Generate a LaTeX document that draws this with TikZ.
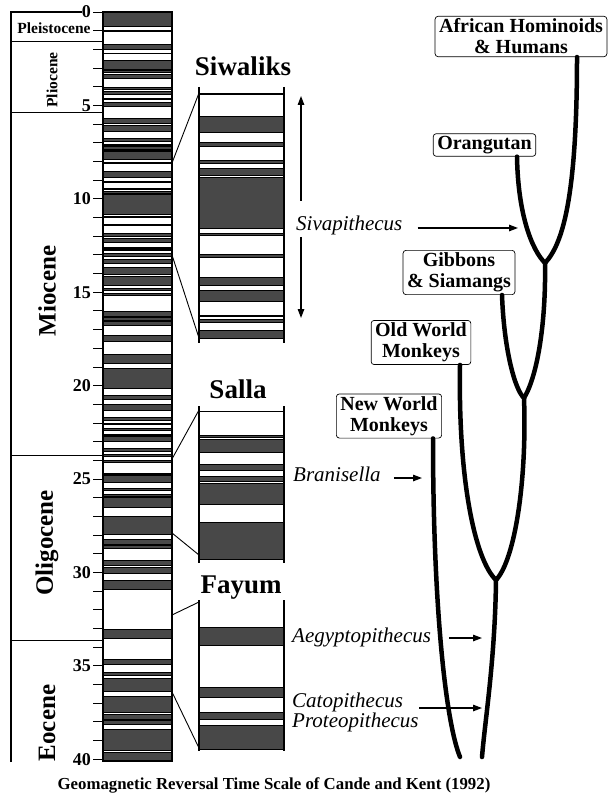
\documentclass[tikz,border=0pt]{standalone}
\usepackage{fontspec}
\setmainfont{Liberation Serif}
\usetikzlibrary{arrows.meta}
\definecolor{shade}{HTML}{484848}
% normal polarity intervals, Ma
\def\chrons{0.000/0.780, 0.984/1.049, 1.757/1.983, 2.197/2.229, 2.600/3.054,
  3.127/3.221, 3.325/3.553, 4.033/4.134, 4.265/4.432, 4.611/4.694, 4.812/5.046,
  5.705/5.946, 6.078/6.376, 6.744/6.901, 7.091/7.135, 7.170/7.341, 7.375/7.406,
  7.464/7.892, 8.047/8.079, 8.529/8.861, 9.069/9.146, 9.428/9.491, 9.592/9.735,
  9.777/10.834, 10.940/10.989, 11.378/11.434, 11.852/12.000, 12.108/12.333,
  12.618/12.649, 12.718/12.764, 12.941/13.094, 13.263/13.476, 13.674/14.059,
  14.164/14.608, 14.800/14.890, 15.038/15.162, 16.035/16.318, 16.352/16.515,
  16.583/16.755, 17.310/17.650, 18.317/18.817, 19.083/20.162, 20.546/20.752,
  21.021/21.343, 21.674/21.865, 22.015/22.077, 22.262/22.394, 22.613/22.689,
  22.710/22.986, 23.353/23.535, 23.677/23.800, 23.999/24.118, 24.722/24.772,
  24.826/25.171, 25.482/25.633, 25.807/25.934, 25.974/26.533, 27.004/27.946,
  28.255/28.484, 28.550/28.716, 29.373/29.633, 29.737/30.071, 30.452/30.915,
  33.058/33.545, 34.655/34.940, 35.343/35.526, 35.685/36.341, 36.618/37.473,
  37.604/37.848, 37.920/38.113, 38.426/39.552, 39.631/40.100}

\begin{document}
\begin{tikzpicture}[x=1pt,y=-1pt,
    band/.style={fill=shade,draw=black,line width=0.7pt},
    frame/.style={line width=1.1pt},
    num/.style={anchor=east,inner sep=0pt,font=\fontsize{18}{18}\selectfont\bfseries},
    epoch/.style={rotate=90,font=\fontsize{25}{25}\selectfont\bfseries},
    site/.style={anchor=base,inner sep=0pt,font=\fontsize{27}{27}\selectfont\bfseries},
    taxon/.style={draw,rounded corners=3pt,line width=0.7pt,fill=white,align=center,
      inner xsep=4pt,inner ysep=2.5pt,font=\fontsize{20}{21}\selectfont\bfseries},
    fossil/.style={anchor=base west,inner sep=0pt,font=\fontsize{21}{20}\selectfont\itshape},
    branch/.style={line width=4.5pt,line cap=round},
    pt/.style={line width=1.3pt,-{Triangle[length=9pt,width=6.5pt]}}]
  \useasboundingbox (0,0) rectangle (607,799);
  \def\yt{12}  % 0 Ma
  \def\sc{18.68} % px per Ma
  % time scale column
  \foreach \t/\b in \chrons
    \filldraw[band] (103,{\yt+\sc*\t}) rectangle (172,{\yt+\sc*\b});
  \draw[frame] (103,\yt) rectangle (172,761);
  \foreach \a in {0,...,40}
    \draw[line width=0.8pt] (93,{\yt+\sc*\a}) -- (102,{\yt+\sc*\a});
  \foreach \a in {0,5,...,40}
    \node[num] (t\a) at (91,{\yt+\sc*\a}) {\a};
  % epochs
  \draw[frame] (11,762) -- (11,\yt) -- (t0.west);
  \foreach \a in {1.6,5.4,23.75,33.65}
    \draw[frame] (11,{\yt+\sc*\a}) -- (103,{\yt+\sc*\a});
  \node[font=\fontsize{15.5}{16}\selectfont\bfseries] (ple) at (54,28) {Pleistocene};
  \node[rotate=90,font=\fontsize{15.5}{16}\selectfont\bfseries] (pli) at (52,80) {Pliocene};
  \node[epoch] (mio) at (47,291) {Miocene};
  \node[epoch] (oli) at (47,543) {Oligocene};
  \node[epoch] (eoc) at (47,723) {Eocene};
  % enlarged sections: top y / bottom y / age at top / px per Ma
  \foreach \ya/\yb/\ta/\s in {87/342/7.92/48.5, 411/560/24.10/38.5, 600/750/32.324/37.3}{
    \begin{scope}
      \clip (199,\ya) rectangle (284,\yb);
      \foreach \t/\b in \chrons
        \filldraw[band] (199,{\ya+(\t-\ta)*\s}) rectangle (284,{\ya+(\b-\ta)*\s});
    \end{scope}
  }
  \draw[frame] (199,87) -- (199,343) (284,87) -- (284,343);
  \draw[frame] (199,406) -- (199,563) (284,406) -- (284,563);
  \draw[frame] (199,600) -- (199,751) (284,600) -- (284,751);
  \draw[line width=0.9pt] (172,163) -- (199,93) (172,255) -- (199,338);
  \draw[line width=0.9pt] (172,459) -- (199,410) (172,533) -- (199,555);
  \draw[line width=0.9pt] (172,615) -- (199,602) (172,692) -- (199,748);
  \node[site] (siw) at (243,76) {Siwaliks};
  \node[site] (sal) at (238,398) {Salla};
  \node[site] (fay) at (241,593) {Fayum};
  % fossils
  \node[fossil] (siva) at (296,231) {Sivapithecus};
  \node[fossil] (bran) at (293,481) {Branisella};
  \node[fossil] (aegy) at (292,642) {Aegyptopithecus};
  \node[fossil] (cato) at (292,707) {Catopithecus};
  \node[fossil] (prot) at (292,727) {Proteopithecus};
  \coordinate (su0) at (301,201);
  \coordinate (su1) at (301,96);
  \coordinate (sd0) at (301,237);
  \coordinate (sd1) at (301,318);
  \draw[pt] (su0) -- (su1);
  \draw[pt] (sd0) -- (sd1);
  % tree
  \node[taxon] (afr) at (521,36.5) {African Hominoids\\\& Humans};
  \node[taxon] (ora) at (484.5,145) {Orangutan};
  \node[taxon] (gib) at (459,272.5) {Gibbons\\\& Siamangs};
  \node[taxon] (owm) at (421,342.5) {Old World\\Monkeys};
  \node[taxon] (nwm) at (389,416) {New World\\Monkeys};
  \coordinate (m1) at (545,263);
  \coordinate (m2) at (524,398);
  \coordinate (m3) at (496,580);
  \coordinate (e1) at (460,757);
  \coordinate (e2) at (482,757);
  \draw[branch] ([xshift=56pt]afr.south) .. controls (577,200) and (562,245) .. (m1);
  \draw[branch] ([xshift=32.5pt]ora.south) .. controls (518,215) and (532,250) .. (m1);
  \draw[branch] (m1) .. controls (546,320) and (538,375) .. (m2);
  \draw[branch] ([xshift=43pt]gib.south) .. controls (504,350) and (515,390) .. (m2);
  \draw[branch] (m2) .. controls (527,480) and (515,560) .. (m3);
  \draw[branch] ([xshift=39pt]owm.south) .. controls (458,480) and (475,560) .. (m3);
  \draw[branch] (m3) .. controls (495,660) and (485,720) .. (e2);
  \draw[branch] ([xshift=44pt]nwm.south) .. controls (433,600) and (445,720) .. (e1);
  \coordinate (hs) at (518,228);
  \coordinate (hb) at (422,478);
  \coordinate (ha) at (482,638);
  \coordinate (hc) at (482,708);
  \draw[pt] ([xshift=15pt,yshift=3pt]siva.base east) -- (hs);
  \draw[pt] ([xshift=13pt,yshift=3pt]bran.base east) -- (hb);
  \draw[pt] ([xshift=18pt,yshift=4pt]aegy.base east) -- (ha);
  \draw[pt] ([xshift=16pt,yshift=-1pt]cato.base east) -- (hc);
  \node[font=\fontsize{16.8}{17}\selectfont\bfseries] (cap) at (274,785)
    {Geomagnetic Reversal Time Scale of Cande and Kent (1992)};
\end{tikzpicture}
\end{document}
